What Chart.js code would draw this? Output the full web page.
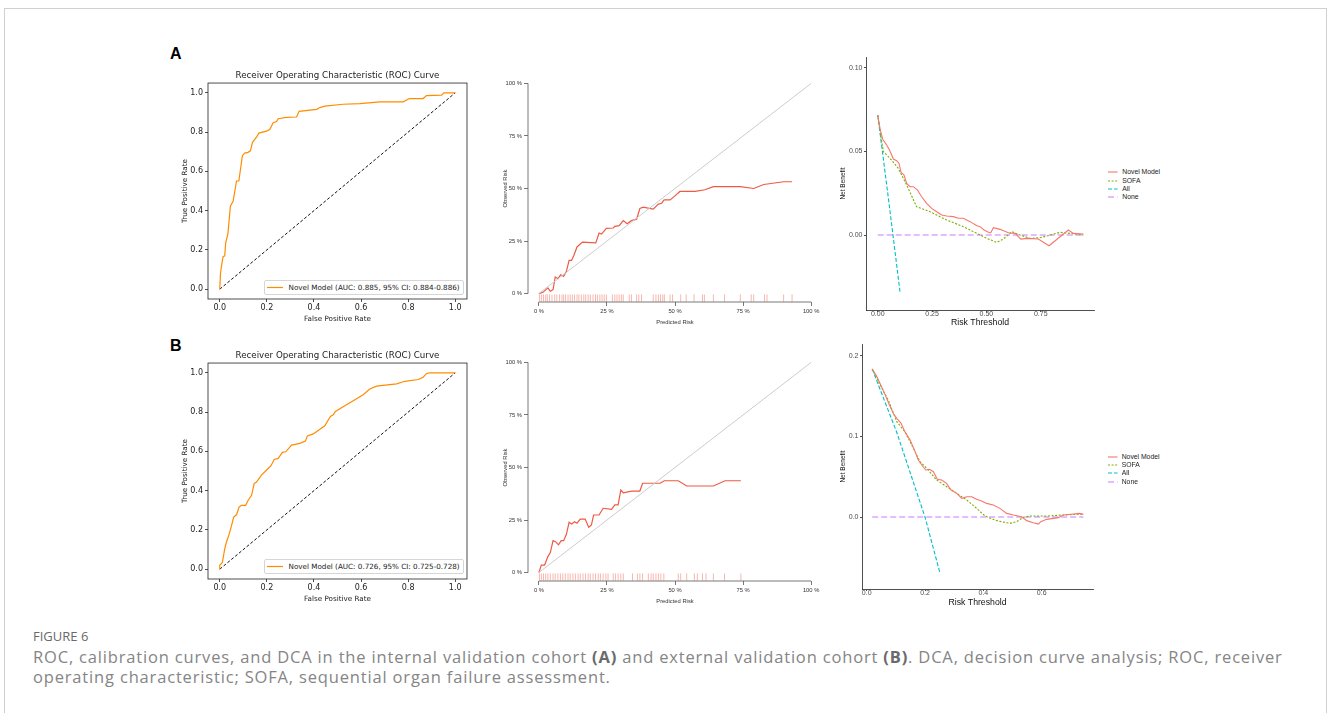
<!DOCTYPE html>
<html>
<head>
<meta charset="utf-8">
<title>Figure 6 - ROC, calibration and DCA</title>
<script src="https://cdn.jsdelivr.net/npm/chart.js@4.4.1/dist/chart.umd.min.js"></script>
<style>
  html, body { margin: 0; padding: 0; background: #fff; }
  body { width: 1328px; height: 713px; position: relative; overflow: hidden; font-family: "Liberation Sans", Arial, sans-serif; }
  .frame { position: absolute; left: 4px; top: 8px; width: 1321px; height: 760px; border: 1px solid #d0d0d0; }
  canvas { position: absolute; }
  .panel { position: absolute; font: bold 16px "Liberation Sans", Arial, sans-serif; color: #000; line-height: 16px; }
  .rleg { position: absolute; width: 200px; height: 15px; box-sizing: border-box; border: 1px solid #d6d6d6; border-radius: 2px;
          background: #fff; display: flex; align-items: center; padding-left: 2px; font: 7.2px "DejaVu Sans", sans-serif; color: #222; white-space: nowrap; }
  .rleg svg { margin-right: 5.5px; }
  .dleg { position: absolute; font: 6.8px "Liberation Sans", Arial, sans-serif; color: #222; white-space: nowrap; line-height: 8px; }
  .dleg svg { position: absolute; left: 0; top: 3px; }
  .dleg span { position: absolute; left: 14px; top: 0; }
  .fig { position: absolute; left: 33px; top: 628px; font: 13px "Open Sans", sans-serif; color: #6a6a6a; line-height: 16px; }
  .cap { position: absolute; left: 33px; top: 647px; font: 16.5px "Open Sans", sans-serif; letter-spacing: 0.83px; color: #858585; line-height: 20px; white-space: nowrap; }
  .cap b { color: #6a6a6a; }
</style>
</head>
<body>
<div class="frame"></div>
<div class="panel" style="left:170px;top:46px">A</div>
<div class="panel" style="left:170px;top:338px">B</div>
<div class="fig">FIGURE 6</div>
<div class="cap">ROC, calibration curves, and DCA in the internal validation cohort <b>(A)</b> and external validation cohort <b>(B)</b>. DCA, decision curve analysis; ROC, receiver<br>operating characteristic; SOFA, sequential organ failure assessment.</div>

<script>
(() => {
  "use strict";

  // ---------- Data ----------
  // ROC, internal validation (A)
  const rocA_fpr = [0, 0.003, 0.007, 0.014, 0.021, 0.025, 0.035, 0.045, 0.057, 0.071, 0.081, 0.096, 0.106, 0.12, 0.13, 0.139, 0.156, 0.166, 0.198, 0.212, 0.227, 0.241, 0.248, 0.283, 0.326, 0.337, 0.411, 0.425, 0.446, 0.524, 0.595, 0.68, 0.779, 0.805, 0.864, 0.878, 0.942, 0.952, 1];
  const rocA_tpr = [0, 0.08, 0.115, 0.166, 0.17, 0.235, 0.286, 0.423, 0.449, 0.551, 0.551, 0.68, 0.693, 0.697, 0.705, 0.748, 0.774, 0.795, 0.805, 0.813, 0.848, 0.854, 0.868, 0.875, 0.877, 0.906, 0.916, 0.925, 0.932, 0.942, 0.945, 0.954, 0.954, 0.971, 0.971, 0.986, 0.988, 1, 1];
  const rocA_label = "Novel Model (AUC: 0.885, 95% CI: 0.884-0.886)";

  // ROC, external validation (B)
  const rocB_fpr = [0, 0, 0.011, 0.021, 0.028, 0.038, 0.05, 0.059, 0.071, 0.082, 0.092, 0.11, 0.12, 0.135, 0.146, 0.156, 0.177, 0.198, 0.217, 0.231, 0.248, 0.266, 0.28, 0.305, 0.34, 0.364, 0.372, 0.397, 0.446, 0.47, 0.482, 0.491, 0.531, 0.567, 0.609, 0.637, 0.666, 0.722, 0.751, 0.786, 0.843, 0.864, 0.878, 0.892, 1];
  const rocB_tpr = [0, 0.02, 0.034, 0.103, 0.137, 0.171, 0.222, 0.265, 0.277, 0.316, 0.325, 0.325, 0.35, 0.376, 0.436, 0.444, 0.479, 0.504, 0.526, 0.559, 0.564, 0.595, 0.598, 0.632, 0.641, 0.653, 0.679, 0.689, 0.73, 0.778, 0.786, 0.803, 0.832, 0.858, 0.889, 0.918, 0.932, 0.94, 0.944, 0.957, 0.966, 0.978, 0.997, 1, 1];
  const rocB_label = "Novel Model (AUC: 0.726, 95% CI: 0.725-0.728)";

  const rocDiag = [0, 1];
  const rocTicks = [0, 0.2, 0.4, 0.6, 0.8, 1.0];

  // Calibration (percent)
  const calA_pred = [0, 1.5, 3.3, 4.2, 5.2, 6.0, 7.0, 8.0, 9.1, 10.1, 11.1, 12.0, 12.8, 14.0, 16.0, 20.9, 22.1, 23.0, 24.8, 27.3, 27.9, 29.5, 31.0, 32.4, 34.0, 35.9, 37.1, 38.3, 42.0, 43.9, 45.1, 46.0, 48.2, 50.0, 51.8, 57.4, 61.0, 64.1, 74.0, 78.9, 82.6, 89.9, 93.0];
  const calA_obs = [0, 0.6, 2.7, 1.1, 1.9, 7.9, 7.1, 9.0, 8.2, 10.6, 15.8, 15.8, 18.0, 22.2, 24.5, 24.1, 28.8, 28.3, 31.0, 31.2, 32.0, 32.3, 34.7, 33.2, 34.7, 35.4, 40.5, 41.1, 40.2, 42.6, 43.0, 44.6, 44.6, 46.5, 48.6, 48.6, 49.4, 50.9, 50.9, 50.0, 51.9, 53.2, 53.2];
  const calA_rug = [0.2, 0.9, 1.7, 2.5, 3.1, 3.9, 4.8, 5.8, 6.6, 7.6, 8.5, 9.1, 9.8, 10.7, 11.5, 12.3, 13.1, 14.0, 14.7, 15.6, 16.5, 17.2, 18.1, 18.9, 19.9, 20.8, 21.5, 22.4, 23.2, 24.0, 24.8, 27.0, 27.9, 28.7, 29.5, 30.3, 31.0, 33.2, 34.0, 35.9, 36.7, 37.7, 42.0, 43.0, 43.9, 44.7, 45.5, 46.1, 48.2, 49.1, 52.1, 54.1, 57.0, 60.1, 60.8, 64.1, 68.2, 74.0, 78.0, 78.9, 82.9, 83.8, 89.9, 93.0];

  const calB_pred = [0, 0.9, 2.1, 3.3, 4.2, 5.2, 6.1, 7.2, 8.2, 9.1, 10.1, 11.1, 12.0, 13.1, 14.0, 15.2, 17.0, 18.3, 19.3, 20.1, 22.1, 23.6, 26.7, 27.9, 29.1, 30.1, 31.0, 34.0, 37.1, 38.1, 44.5, 46.1, 51.2, 54.3, 64.1, 68.4, 74.2];
  const calB_obs = [0, 3.6, 3.6, 7.6, 9.5, 15.2, 14.7, 13.2, 15.2, 15.2, 18.2, 23.9, 23.1, 24.2, 23.5, 25.4, 25.5, 21.6, 22.7, 27.4, 27.4, 30.6, 30.1, 32.2, 32.2, 39.3, 38.0, 38.8, 38.8, 42.5, 42.5, 43.7, 43.7, 41.2, 41.2, 43.7, 43.7];
  const calB_rug = [0.2, 0.9, 1.7, 2.5, 3.3, 4.2, 5.2, 6.0, 7.0, 7.9, 8.8, 9.7, 10.7, 11.5, 12.5, 13.4, 14.4, 15.2, 16.2, 17.1, 18.1, 18.9, 19.9, 20.8, 21.8, 22.6, 23.6, 24.6, 25.4, 27.3, 28.1, 29.1, 30.1, 31.0, 34.4, 36.2, 37.1, 38.1, 40.2, 41.2, 42.0, 43.0, 43.9, 44.8, 45.9, 51.2, 52.1, 54.3, 57.1, 58.2, 60.1, 61.4, 64.1, 68.2, 74.2];

  const calDiag = [0, 100];
  const calTicks = [0, 25, 50, 75, 100];

  // Decision curves (A)
  const dcaA_t_model = [0, 0.011, 0.023, 0.041, 0.054, 0.072, 0.087, 0.098, 0.107, 0.121, 0.133, 0.149, 0.164, 0.183, 0.202, 0.225, 0.248, 0.271, 0.294, 0.317, 0.348, 0.371, 0.394, 0.425, 0.456, 0.471, 0.489, 0.514, 0.520, 0.532, 0.563, 0.601, 0.632, 0.658, 0.686, 0.739, 0.788, 0.839, 0.877, 0.9, 0.946];
  const dcaA_nb_model = [0.0717, 0.0633, 0.0572, 0.0538, 0.0508, 0.0454, 0.0444, 0.0428, 0.0375, 0.0359, 0.0309, 0.0289, 0.0289, 0.0269, 0.0229, 0.0189, 0.0159, 0.0139, 0.0120, 0.0114, 0.0110, 0.0100, 0.0100, 0.0080, 0.0056, 0.0050, 0.0030, 0.0014, 0.0014, 0.0044, 0.0034, 0.0014, 0.0010, -0.0024, -0.0020, -0.0024, -0.0064, -0.0010, 0.0030, 0.0010, 0.0006];
  const dcaA_t_sofa = [0, 0.011, 0.026, 0.057, 0.095, 0.133, 0.179, 0.241, 0.317, 0.394, 0.456, 0.502, 0.548, 0.578, 0.617, 0.655, 0.701, 0.747, 0.793, 0.839, 0.885, 0.946];
  const dcaA_nb_sofa = [0.0717, 0.0618, 0.0498, 0.0458, 0.0398, 0.0299, 0.0169, 0.0139, 0.0090, 0.0050, 0.0010, -0.0020, -0.0044, -0.0024, 0.0020, 0.0, -0.0020, -0.0016, 0.0, 0.0016, 0.0010, 0.0];
  const dcaA_t_all = [0, 0.05, 0.103];
  const dcaA_nb_all = [0.0717, 0.021, -0.0345];
  const dcaA_t_none = [0, 0.946];
  const dcaA_nb_none = [0, 0];
  const dcaA_xTicks = [0, 0.25, 0.5, 0.75];
  const dcaA_yTicks = [0, 0.05, 0.10];

  // Decision curves (B)
  const dcaB_t_model = [0.019, 0.034, 0.051, 0.066, 0.078, 0.091, 0.103, 0.118, 0.131, 0.149, 0.166, 0.177, 0.189, 0.202, 0.215, 0.229, 0.242, 0.257, 0.274, 0.289, 0.309, 0.326, 0.343, 0.36, 0.377, 0.394, 0.411, 0.434, 0.457, 0.48, 0.503, 0.531, 0.549, 0.571, 0.589, 0.597, 0.617, 0.657, 0.674, 0.709, 0.729, 0.743];
  const dcaB_nb_model = [0.1835, 0.1748, 0.1616, 0.1492, 0.1388, 0.1285, 0.1223, 0.1161, 0.1058, 0.0955, 0.0810, 0.0707, 0.0645, 0.0583, 0.0591, 0.0562, 0.0467, 0.0459, 0.0417, 0.0335, 0.0293, 0.0231, 0.0252, 0.0252, 0.0219, 0.0198, 0.0169, 0.0149, 0.0107, 0.0045, 0.0025, 0.0004, -0.0045, -0.0070, -0.0087, -0.0058, -0.0029, -0.0008, 0.0025, 0.0037, 0.0045, 0.0033];
  const dcaB_t_sofa = [0.019, 0.046, 0.074, 0.103, 0.131, 0.166, 0.183, 0.206, 0.24, 0.274, 0.309, 0.343, 0.377, 0.406, 0.446, 0.491, 0.514, 0.537, 0.56, 0.617, 0.674, 0.743];
  const dcaB_nb_sofa = [0.1835, 0.1636, 0.1450, 0.1182, 0.1058, 0.0810, 0.0686, 0.0603, 0.0459, 0.0376, 0.0293, 0.0211, 0.0107, 0.0012, -0.0045, -0.0079, -0.0058, -0.0004, 0.0012, 0.0012, 0.0025, 0.0037];
  const dcaB_t_all = [0.019, 0.103, 0.2, 0.251];
  const dcaB_nb_all = [0.1835, 0.105, 0.0, -0.069];
  const dcaB_t_none = [0.019, 0.743];
  const dcaB_nb_none = [0, 0];
  const dcaB_xTicks = [0, 0.2, 0.4, 0.6];
  const dcaB_yTicks = [0, 0.1, 0.2];

  const dcaNames = ["Novel Model", "SOFA", "All", "None"];

  // ---------- Styles ----------
  const DCA_STYLE = [
    { color: "#F8766D", dash: [] },
    { color: "#7CAE00", dash: [2, 1.6] },
    { color: "#00BFC4", dash: [4, 2] },
    { color: "#C77CFF", dash: [6, 3] },
  ];
  const ROC_ORANGE = "#ff8c00";
  const CAL_RED = "#ee5a44";
  const RUG_Y = -2.1;

  // ---------- Helpers ----------
  const xy = (xs, ys) => xs.map((x, i) => ({ x, y: ys[i] }));

  const fixSize = (size) => (s) => {
    if (s.isHorizontal()) { s.height = size; s.paddingLeft = 0; s.paddingRight = 0; }
    else { s.width = size; s.paddingTop = 0; s.paddingBottom = 0; }
  };
  const setTicks = (vals) => (s) => { s.ticks = vals.map(v => ({ value: v })); };

  function addCanvas(left, top, w, h) {
    const c = document.createElement("canvas");
    c.width = w; c.height = h;
    c.style.left = left + "px"; c.style.top = top + "px";
    c.style.width = w + "px"; c.style.height = h + "px";
    document.body.appendChild(c);
    return c;
  }

  function axis(o) {
    return {
      type: "linear", min: o.min, max: o.max,
      afterBuildTicks: setTicks(o.ticks),
      afterFit: fixSize(o.size),
      ticks: { callback: o.fmt, font: o.tickFont, color: o.textColor, padding: o.tickPad, maxRotation: 0, autoSkip: false },
      grid: { display: true, drawOnChartArea: false, drawTicks: true, tickLength: o.tickLen, color: o.lineColor, lineWidth: 0.8 },
      border: { display: !!o.border, color: o.lineColor, width: 0.8 },
      title: { display: true, text: o.title, font: o.titleFont, color: o.titleColor || o.textColor, padding: 0 },
    };
  }

  const line = (data, color, width, dash) => ({
    data, showLine: true, borderColor: color, borderWidth: width, borderDash: dash || [],
    pointRadius: 0, tension: 0, fill: false,
  });

  const baseOptions = (padding) => ({
    responsive: false, animation: false, events: [],
    layout: { autoPadding: false, padding },
    plugins: { legend: { display: false }, tooltip: { enabled: false } },
  });

  // matplotlib-style box round the plot
  const framePlugin = {
    id: "frame",
    afterDraw(chart, args, opts) {
      const { ctx, chartArea: a } = chart;
      ctx.save();
      ctx.strokeStyle = opts.color; ctx.lineWidth = opts.width;
      ctx.strokeRect(a.left, a.top, a.right - a.left, a.bottom - a.top);
      ctx.restore();
    },
  };

  // base-R style axis lines (only between first and last tick)
  const rAxesPlugin = {
    id: "raxes",
    afterDraw(chart, args, opts) {
      const { ctx, chartArea: a, scales: { x, y } } = chart;
      ctx.save();
      ctx.strokeStyle = opts.color; ctx.lineWidth = opts.width;
      ctx.beginPath();
      ctx.moveTo(a.left, y.getPixelForValue(opts.from));
      ctx.lineTo(a.left, y.getPixelForValue(opts.to));
      ctx.moveTo(x.getPixelForValue(opts.from), a.bottom);
      ctx.lineTo(x.getPixelForValue(opts.to), a.bottom);
      ctx.stroke();
      ctx.restore();
    },
  };

  // ---------- ROC ----------
  function rocChart(top, fpr, tpr, label, legTop) {
    const c = addCanvas(170, top, 310, 268);
    const tickFont = { family: "DejaVu Sans", size: 8, lineHeight: 1.2 };
    const titleFont = { family: "DejaVu Sans", size: 7.2, lineHeight: 1.2 };
    const opts = baseOptions({ left: 10.7, right: 13, top: 6.8, bottom: 8.7 });
    opts.plugins.title = {
      display: true, fullSize: false, text: "Receiver Operating Characteristic (ROC) Curve", color: "#222",
      font: { family: "DejaVu Sans", size: 8.7, weight: "normal", lineHeight: 1.2 }, padding: { top: 0, bottom: 1.8 },
    };
    opts.plugins.frame = { color: "#222", width: 0.8 };
    const common = { min: -0.05, max: 1.05, ticks: rocTicks, fmt: v => v.toFixed(1), tickFont, titleFont,
                     textColor: "#222", lineColor: "#222", tickLen: 3, border: false };
    opts.scales = {
      x: axis({ ...common, size: 24.3, tickPad: 1.2, title: "False Positive Rate" }),
      y: axis({ ...common, size: 27.3, tickPad: 2, title: "True Positive Rate" }),
    };
    new Chart(c, {
      type: "scatter",
      data: { datasets: [ line(xy(fpr, tpr), ROC_ORANGE, 1.2), line(xy(rocDiag, rocDiag), "#111", 1, [3, 2]) ] },
      options: opts,
      plugins: [framePlugin],
    });

    const leg = document.createElement("div");
    leg.className = "rleg";
    leg.style.left = "264px"; leg.style.top = legTop + "px";
    leg.innerHTML = '<svg width="16" height="3"><line x1="0" y1="1.5" x2="16" y2="1.5" stroke="' + ROC_ORANGE + '" stroke-width="1.2"/></svg>';
    const sp = document.createElement("span");
    sp.textContent = label;
    leg.appendChild(sp);
    document.body.appendChild(leg);
  }

  // ---------- Calibration ----------
  function calChart(top, pred, obs, rug) {
    const c = addCanvas(495, top, 335, 262);
    const f = { family: "Liberation Sans", size: 5.8, lineHeight: 1.2 };
    const opts = baseOptions({ left: 6.5, right: 8, top: 5, bottom: 6.5 });
    opts.plugins.raxes = { from: 0, to: 100, color: "#555", width: 0.8 };
    const common = { min: -4, max: 104, ticks: calTicks, fmt: v => v + " %", tickFont: f, titleFont: f,
                     textColor: "#333", lineColor: "#555", tickLen: 4, border: false };
    opts.scales = {
      x: axis({ ...common, size: 23.5, tickPad: 1.5, title: "Predicted Risk" }),
      y: axis({ ...common, size: 26.5, tickPad: 2, title: "Observed Risk" }),
    };
    new Chart(c, {
      type: "scatter",
      data: { datasets: [
        line(xy(calDiag, calDiag), "#cccccc", 1),
        line(xy(pred, obs), CAL_RED, 1.2),
        { data: rug.map(v => ({ x: v, y: RUG_Y })), showLine: false, pointStyle: "line", pointRotation: 90,
          pointRadius: 3.6, pointBorderColor: "rgba(238,90,68,0.55)", pointBorderWidth: 0.8, pointBackgroundColor: "transparent" },
      ] },
      options: opts,
      plugins: [rAxesPlugin],
    });
  }

  // ---------- Decision curves ----------
  function dcaChart(cfg) {
    const c = addCanvas(cfg.left, cfg.top, cfg.w, cfg.h);
    const tickFont = { family: "Liberation Sans", size: 7, lineHeight: 1 };
    const opts = baseOptions(cfg.padding);
    opts.scales = {
      x: axis({ min: cfg.xMin, max: cfg.xMax, ticks: cfg.xTicks, fmt: v => v.toFixed(cfg.digits), size: cfg.xSize,
                tickFont, titleFont: { family: "Liberation Sans", size: 8.7, lineHeight: 1.2 }, textColor: "#4d4d4d", titleColor: "#111",
                lineColor: "#222", tickLen: 2, tickPad: -1, border: true, title: "Risk Threshold" }),
      y: axis({ min: cfg.yMin, max: cfg.yMax, ticks: cfg.yTicks, fmt: v => v.toFixed(cfg.digits), size: cfg.ySize,
                tickFont, titleFont: { family: "Liberation Sans", size: 6.5, lineHeight: 1.2 }, textColor: "#4d4d4d", titleColor: "#111",
                lineColor: "#222", tickLen: 2, tickPad: 1.5, border: true, title: "Net Benefit" }),
    };
    new Chart(c, {
      type: "scatter",
      data: { datasets: cfg.series.map((s, i) => line(xy(s[0], s[1]), DCA_STYLE[i].color, 1.1, DCA_STYLE[i].dash)) },
      options: opts,
    });

    // legend (ggplot style, right of the panel)
    dcaNames.forEach((name, i) => {
      const d = document.createElement("div");
      d.className = "dleg";
      d.style.left = cfg.legLeft + "px";
      d.style.top = (cfg.legTop + i * cfg.legStep - 4) + "px";
      const st = DCA_STYLE[i];
      d.innerHTML = '<svg width="10" height="2"><line x1="0" y1="1" x2="9.5" y2="1" stroke="' + st.color +
        '" stroke-width="1.1" stroke-dasharray="' + (st.dash.length ? st.dash.join(",") : "none") + '"/></svg>';
      const sp = document.createElement("span");
      sp.textContent = name;
      d.appendChild(sp);
      document.body.appendChild(d);
    });
  }

  // ---------- Build ----------
  rocChart(64, rocA_fpr, rocA_tpr, rocA_label, 280);
  rocChart(344, rocB_fpr, rocB_tpr, rocB_label, 559);

  calChart(70, calA_pred, calA_obs, calA_rug);
  calChart(349, calB_pred, calB_obs, calB_rug);

  dcaChart({
    left: 830, top: 50, w: 270, h: 285,
    padding: { left: 9.1, right: 6, top: 7, bottom: 6.8 },
    xMin: -0.054, xMax: 0.995, yMin: -0.0448, yMax: 0.1064,
    xTicks: dcaA_xTicks, yTicks: dcaA_yTicks, digits: 2, xSize: 18.2, ySize: 26.9,
    series: [[dcaA_t_model, dcaA_nb_model], [dcaA_t_sofa, dcaA_nb_sofa], [dcaA_t_all, dcaA_nb_all], [dcaA_t_none, dcaA_nb_none]],
    legLeft: 1108.3, legTop: 172.3, legStep: 8.33,
  });
  dcaChart({
    left: 826, top: 337, w: 274, h: 278,
    padding: { left: 13.1, right: 7, top: 7, bottom: 7.1 },
    xMin: -0.016, xMax: 0.776, yMin: -0.0892, yMax: 0.2144,
    xTicks: dcaB_xTicks, yTicks: dcaB_yTicks, digits: 1, xSize: 18.9, ySize: 22.9,
    series: [[dcaB_t_model, dcaB_nb_model], [dcaB_t_sofa, dcaB_nb_sofa], [dcaB_t_all, dcaB_nb_all], [dcaB_t_none, dcaB_nb_none]],
    legLeft: 1107.7, legTop: 456.8, legStep: 8.3,
  });
})();
</script>
</body>
</html>
